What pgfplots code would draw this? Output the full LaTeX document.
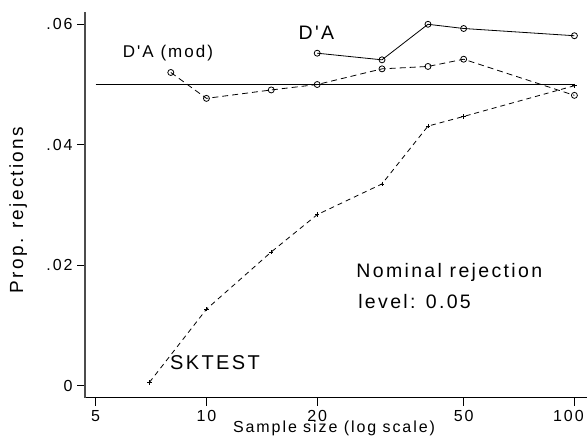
\documentclass[border=0pt]{standalone}
\usepackage{fontspec}
\setmainfont{Liberation Sans}
\newfontfamily\st[LetterSpace=12]{Liberation Sans}
\usepackage{pgfplots}
\pgfplotsset{compat=1.18}

\begin{document}
\begin{tikzpicture}
\path[use as bounding box] (0,0) rectangle (587pt,436pt);
\begin{axis}[
    at={(85pt,38pt)}, anchor=south west,
    scale only axis,
    width=502pt, height=386pt,
    xmode=log,
    xmin=4.677, xmax=108.2,
    ymin=-0.00204, ymax=0.06204,
    axis x line*=bottom,
    axis y line*=left,
    x axis line style={-, line width=1pt},
    y axis line style={-, line width=1.2pt, black!70},
    xtick={5,10,20,50,100},
    xticklabels={5,10,20,50,{\kern-12pt100}},
    ytick={0,0.02,0.04,0.06},
    yticklabels={0,.02,.04,.06},
    scaled y ticks=false,
    minor xtick={},
    tick align=outside,
    major tick length=8pt,
    tick style={black, line width=0.8pt},
    ticklabel style={font=\st\fontsize{16}{16}\selectfont},
    xticklabel style={yshift=-1pt},
    yticklabel style={xshift=-1pt},
    xlabel={Sample size (log scale)},
    ylabel={Prop. rejections},
    xlabel style={font=\st\fontsize{16}{16}\selectfont,
                  at={(axis description cs:0.496,-0.0905)}, anchor=base},
    ylabel style={font=\st\fontsize{19}{19}\selectfont,
                  at={(axis description cs:-0.133,0.487)}, anchor=center},
    clip=false,
]
% nominal rejection level
\addplot[black, line width=0.9pt] coordinates {(5,0.05) (100,0.05)};
% D'A
\addplot[black, line width=0.8pt, mark=o, mark size=3pt] coordinates {
    (20,0.0552) (30,0.0541) (40,0.0600) (50,0.0593) (100,0.0581)
};
% D'A (mod)
\addplot[black, line width=0.8pt, dash pattern=on 6pt off 4pt,
         mark=o, mark size=3pt, mark options={solid}] coordinates {
    (8,0.0520) (10,0.0477) (15,0.0491) (20,0.0500) (30,0.0526)
    (40,0.0530) (50,0.0542) (100,0.0482)
};
% SKTEST
\addplot[black, line width=0.8pt, dash pattern=on 5pt off 4pt,
         mark=+, mark size=2.2pt, mark options={solid}] coordinates {
    (7,0.00056) (10,0.0127) (15,0.0222) (20,0.0284) (30,0.0335)
    (40,0.0431) (50,0.0447) (100,0.0498)
};
\node[font=\st\fontsize{17}{17}\selectfont] at (axis cs:7.86,0.05527) {D'A (mod)};
\node[font=\st\fontsize{19.5}{19.5}\selectfont] at (axis cs:19.9,0.0586) {D'A};
\node[font=\st\fontsize{20}{20}\selectfont] at (axis cs:10.55,0.00382) {SKTEST};
\node[font=\st\fontsize{19.5}{19.5}\selectfont, anchor=west] at (axis cs:25.0,0.01872) {Nominal rejection};
\node[font=\st\fontsize{19.5}{19.5}\selectfont, anchor=west] at (axis cs:25.3,0.0139) {level: 0.05};
\end{axis}
\end{tikzpicture}
\end{document}
